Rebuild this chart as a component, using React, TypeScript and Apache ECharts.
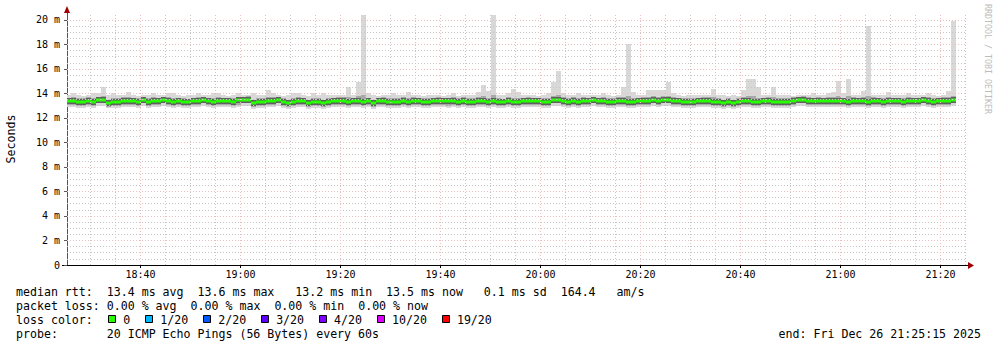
import React, { useEffect, useRef } from "react";
import * as echarts from "echarts";

// time is expressed in minutes after 18:00
const X_START = 25; // first sample 18:25
const AXIS_MIN = 25.3; // 18:25:18
const AXIS_MAX = 205.3; // 21:25:18
const Y_MAX = 20.57;
const X_TICKS = [40, 60, 80, 100, 120, 140, 160, 180, 200];
const Y_TICKS = [0, 2, 4, 6, 8, 10, 12, 14, 16, 18, 20];

// round-trip times in ms, one sample per minute
const rttMed = [
  13.4, 13.4, 13.3, 13.3, 13.4, 13.3, 13.5, 13.5, 13.2, 13.3,
  13.3, 13.4, 13.4, 13.4, 13.3, 13.5, 13.3, 13.4, 13.4, 13.5,
  13.4, 13.3, 13.4, 13.3, 13.3, 13.4, 13.4, 13.5, 13.4, 13.3,
  13.4, 13.4, 13.4, 13.3, 13.5, 13.5, 13.5, 13.2, 13.3, 13.3,
  13.4, 13.4, 13.5, 13.3, 13.2, 13.3, 13.4, 13.4, 13.2, 13.3,
  13.3, 13.2, 13.3, 13.4, 13.4, 13.4, 13.3, 13.4, 13.4, 13.3,
  13.4, 13.2, 13.4, 13.4, 13.3, 13.3, 13.3, 13.4, 13.3, 13.4,
  13.4, 13.3, 13.3, 13.4, 13.4, 13.4, 13.4, 13.4, 13.3, 13.4,
  13.3, 13.3, 13.4, 13.4, 13.3, 13.4, 13.3, 13.3, 13.4, 13.3,
  13.3, 13.4, 13.4, 13.4, 13.4, 13.3, 13.3, 13.5, 13.5, 13.4,
  13.3, 13.4, 13.3, 13.4, 13.4, 13.5, 13.4, 13.4, 13.3, 13.3,
  13.4, 13.4, 13.3, 13.3, 13.4, 13.4, 13.4, 13.5, 13.4, 13.5,
  13.5, 13.4, 13.4, 13.3, 13.3, 13.3, 13.4, 13.4, 13.4, 13.3,
  13.3, 13.2, 13.3, 13.2, 13.3, 13.4, 13.4, 13.3, 13.3, 13.4,
  13.4, 13.3, 13.3, 13.3, 13.3, 13.4, 13.5, 13.5, 13.4, 13.4,
  13.4, 13.4, 13.4, 13.4, 13.4, 13.4, 13.3, 13.4, 13.4, 13.4,
  13.3, 13.4, 13.4, 13.3, 13.4, 13.4, 13.4, 13.3, 13.4, 13.4,
  13.4, 13.5, 13.4, 13.3, 13.4, 13.4, 13.4, 13.5,
];

const rttMax = [
  13.9, 14.0, 13.9, 13.8, 13.9, 14.0, 14.0, 14.5, 13.9, 14.0,
  13.9, 13.9, 14.1, 13.9, 13.8, 13.9, 13.9, 14.0, 13.9, 13.9,
  14.0, 14.0, 13.9, 13.8, 13.9, 13.9, 14.0, 13.9, 13.9, 14.0,
  14.0, 13.9, 13.8, 13.9, 14.0, 13.9, 13.9, 14.0, 13.9, 13.9,
  14.3, 14.0, 13.9, 13.8, 13.9, 14.0, 14.0, 13.9, 13.8, 14.0,
  13.9, 14.0, 13.9, 13.9, 13.9, 13.9, 14.5, 13.9, 14.9, 20.4,
  14.0, 13.9, 13.8, 13.9, 13.9, 14.0, 13.9, 13.9, 14.1, 13.9,
  13.9, 13.8, 13.9, 13.9, 13.9, 13.8, 13.9, 14.0, 13.8, 13.9,
  13.9, 13.9, 14.1, 14.7, 14.2, 20.4, 13.9, 13.9, 14.0, 14.4,
  14.1, 13.9, 13.9, 13.9, 13.8, 13.9, 14.0, 14.9, 15.8, 14.0,
  13.9, 13.9, 14.0, 13.9, 13.9, 13.9, 13.9, 14.0, 13.9, 13.8,
  13.9, 14.5, 18.0, 14.1, 13.9, 13.9, 14.3, 14.3, 14.3, 14.3,
  14.9, 14.0, 13.9, 13.8, 13.9, 13.9, 13.9, 13.9, 13.9, 14.4,
  13.9, 13.9, 13.8, 13.9, 13.8, 14.3, 15.2, 15.2, 14.5, 13.9,
  13.9, 14.5, 13.9, 13.9, 13.9, 13.8, 13.9, 13.9, 13.9, 14.0,
  13.9, 13.9, 14.0, 14.1, 15.0, 14.0, 15.2, 13.9, 13.9, 14.2,
  19.5, 13.9, 13.9, 13.9, 14.1, 13.9, 13.9, 13.9, 14.0, 13.9,
  13.9, 13.9, 14.0, 13.9, 13.8, 13.9, 14.2, 19.9,
];

const rttHi = [
  13.6, 13.7, 13.6, 13.6, 13.7, 13.6, 13.7, 13.8, 13.5, 13.6,
  13.6, 13.7, 13.7, 13.6, 13.6, 13.7, 13.6, 13.7, 13.6, 13.7,
  13.7, 13.6, 13.6, 13.6, 13.5, 13.6, 13.7, 13.7, 13.6, 13.6,
  13.7, 13.6, 13.6, 13.6, 13.7, 13.7, 13.8, 13.5, 13.6, 13.6,
  13.7, 13.7, 13.7, 13.6, 13.5, 13.6, 13.7, 13.6, 13.5, 13.6,
  13.6, 13.5, 13.6, 13.6, 13.7, 13.7, 13.7, 13.6, 13.8, 13.9,
  13.6, 13.5, 13.6, 13.7, 13.6, 13.6, 13.6, 13.7, 13.6, 13.7,
  13.6, 13.6, 13.6, 13.6, 13.7, 13.6, 13.6, 13.7, 13.6, 13.7,
  13.6, 13.6, 13.7, 13.8, 13.6, 13.9, 13.6, 13.5, 13.7, 13.6,
  13.6, 13.6, 13.7, 13.6, 13.6, 13.6, 13.6, 13.8, 13.9, 13.7,
  13.6, 13.7, 13.6, 13.7, 13.6, 13.7, 13.6, 13.7, 13.6, 13.6,
  13.7, 13.7, 13.8, 13.6, 13.6, 13.7, 13.7, 13.8, 13.7, 13.8,
  13.8, 13.7, 13.6, 13.6, 13.6, 13.6, 13.6, 13.7, 13.7, 13.7,
  13.6, 13.5, 13.6, 13.5, 13.6, 13.7, 13.8, 13.8, 13.6, 13.6,
  13.7, 13.7, 13.6, 13.6, 13.6, 13.7, 13.7, 13.8, 13.7, 13.6,
  13.7, 13.6, 13.7, 13.7, 13.8, 13.6, 13.8, 13.7, 13.6, 13.7,
  13.8, 13.7, 13.6, 13.6, 13.7, 13.6, 13.6, 13.6, 13.7, 13.6,
  13.6, 13.7, 13.7, 13.6, 13.6, 13.7, 13.7, 13.8,
];

const rttLo = [
  13.1, 13.1, 13.0, 13.0, 13.1, 13.0, 13.2, 13.2, 12.9, 13.0,
  13.0, 13.1, 13.1, 13.1, 13.0, 13.2, 13.0, 13.1, 13.1, 13.2,
  13.1, 13.0, 13.1, 13.0, 13.0, 13.1, 13.1, 13.2, 13.1, 13.0,
  13.1, 13.1, 13.1, 13.0, 13.1, 13.2, 13.2, 12.9, 13.0, 13.0,
  13.1, 13.1, 13.2, 13.0, 12.9, 13.0, 13.1, 13.1, 12.9, 13.0,
  13.0, 12.9, 13.0, 13.1, 13.1, 13.1, 13.0, 13.1, 13.1, 13.0,
  13.1, 12.9, 13.1, 13.1, 13.0, 13.0, 13.0, 13.1, 13.0, 13.1,
  13.1, 13.0, 13.0, 13.1, 13.1, 13.1, 13.0, 13.1, 13.0, 13.1,
  13.0, 13.0, 13.1, 13.1, 13.0, 13.1, 13.0, 13.0, 13.1, 13.0,
  13.0, 13.1, 13.1, 13.1, 13.1, 13.0, 13.0, 13.2, 13.2, 13.1,
  13.0, 13.1, 13.0, 13.1, 13.1, 13.2, 13.1, 13.1, 13.0, 13.0,
  13.1, 13.1, 13.0, 13.0, 13.1, 13.1, 13.1, 13.2, 13.1, 13.2,
  13.2, 13.1, 13.1, 13.0, 13.0, 13.0, 13.1, 13.1, 13.1, 13.0,
  13.0, 12.9, 13.0, 12.9, 13.0, 13.1, 13.1, 13.0, 13.0, 13.1,
  13.1, 13.0, 13.0, 13.0, 13.0, 13.1, 13.2, 13.2, 13.1, 13.1,
  13.1, 13.1, 13.1, 13.1, 13.1, 13.1, 13.0, 13.1, 13.1, 13.1,
  13.0, 13.1, 13.1, 13.0, 13.1, 13.1, 13.1, 13.0, 13.1, 13.1,
  13.1, 13.2, 13.1, 13.0, 13.1, 13.1, 13.1, 13.2,
];

const rttMin = [
  12.9, 12.9, 12.8, 12.8, 12.9, 12.8, 13.0, 13.0, 12.8, 12.8,
  12.8, 12.9, 12.9, 12.9, 12.8, 13.0, 12.8, 12.9, 12.9, 13.0,
  12.9, 12.8, 12.9, 12.8, 12.8, 12.9, 12.9, 13.0, 12.9, 12.8,
  12.9, 12.9, 12.9, 12.8, 12.9, 13.0, 13.0, 12.7, 12.8, 12.8,
  12.9, 12.9, 13.0, 12.8, 12.7, 12.8, 12.9, 12.9, 12.7, 12.8,
  12.8, 12.7, 12.8, 12.9, 12.9, 12.9, 12.8, 12.9, 12.9, 12.8,
  12.9, 12.7, 12.9, 12.9, 12.8, 12.8, 12.8, 12.9, 12.8, 12.9,
  12.9, 12.8, 12.8, 12.9, 12.9, 12.9, 12.8, 12.9, 12.8, 12.9,
  12.8, 12.8, 12.9, 12.9, 12.8, 12.9, 12.8, 12.8, 12.9, 12.8,
  12.8, 12.9, 12.9, 12.9, 12.9, 12.8, 12.8, 13.0, 13.0, 12.9,
  12.8, 12.9, 12.8, 12.9, 12.9, 13.0, 12.9, 12.9, 12.8, 12.8,
  12.9, 12.9, 12.8, 12.8, 12.9, 12.9, 12.9, 13.0, 12.9, 13.0,
  13.0, 12.9, 12.9, 12.8, 12.8, 12.8, 12.9, 12.9, 12.9, 12.8,
  12.8, 12.7, 12.8, 12.7, 12.8, 12.9, 12.9, 12.8, 12.8, 12.9,
  12.9, 12.8, 12.8, 12.8, 12.8, 12.9, 13.0, 13.0, 12.9, 12.9,
  12.9, 12.9, 12.9, 12.9, 12.9, 12.9, 12.8, 12.9, 12.9, 12.9,
  12.8, 12.9, 12.9, 12.8, 12.9, 12.9, 12.9, 12.8, 12.9, 12.9,
  12.9, 13.0, 12.9, 12.8, 12.9, 12.9, 12.9, 13.0,
];

const LOSS_COLORS = ["#26ff00", "#00b8ff", "#0059ff", "#5e00ff", "#7e00ff", "#dd00ff", "#ff0000"];
const LOSS_LABELS = ["0", "1/20", "2/20", "3/20", "4/20", "10/20", "19/20"];

const LINE_RTT = "median rtt:  13.4 ms avg  13.6 ms max   13.2 ms min  13.5 ms now   0.1 ms sd  164.4   am/s";
const LINE_LOSS = "packet loss: 0.00 % avg  0.00 % max  0.00 % min  0.00 % now";
const LINE_COLOR = "loss color:";
const LINE_PROBE = "probe:       20 ICMP Echo Pings (56 Bytes) every 60s";
const END_TEXT = "end: Fri Dec 26 21:25:15 2025";

const MONO = '"DejaVu Sans Mono", monospace';
const LFONT = 11.6;
const CW = LFONT * 0.602;
const TX = 16;

const SMOKE_OUTER = "#d8d8d8";
const SMOKE_INNER = "#a8a8a8";
const SMOKE_CORE = "#606060";
const MEDIAN_COLOR = "#26ff00";
const GRID_MAJOR = "#ecc0c0";
const GRID_MINOR = "#c6c6c6";
const ARROW = "#a00000";

function fmtTime(v: number) {
  const h = 18 + Math.floor(v / 60);
  const m = Math.round(v % 60);
  return `${h}:${m < 10 ? "0" + m : m}`;
}

function textStyle(text: string, align: string, size = LFONT, fill = "#000") {
  return {
    text,
    fill,
    font: `${size}px ${MONO}`,
    align,
    verticalAlign: "middle",
    textAlign: align,
    textVerticalAlign: "middle",
  };
}

function textRuns(line: string, y: number) {
  const out: any[] = [];
  const re = /\S+(?: \S+)*/g;
  let m: RegExpExecArray | null;
  while ((m = re.exec(line))) {
    out.push({ type: "text", x: TX + m.index * CW, y, silent: true, style: textStyle(m[0], "left") });
  }
  return out;
}

export default function App() {
  const ref = useRef<HTMLDivElement>(null);

  useEffect(() => {
    const chart = echarts.init(ref.current!, null, { renderer: "svg" });

    const rows = rttMed.map((med, i) => [X_START + i, rttMin[i], rttLo[i], rttHi[i], rttMax[i], med]);

    const dotted = (color: string) => ({ color, type: [1, 2], width: 1 });
    const gridLines: any[] = [];
    for (let k = 1; k <= 40; k++) {
      if (k % 4 === 0) continue;
      gridLines.push({ yAxis: k / 2, lineStyle: dotted(GRID_MINOR) });
    }
    Y_TICKS.filter((v) => v > 0).forEach((v) => gridLines.push({ yAxis: v, lineStyle: dotted(GRID_MAJOR) }));
    for (let mnt = 30; mnt <= 205; mnt += 5) {
      gridLines.push({ xAxis: mnt, lineStyle: dotted(mnt % 20 === 0 ? GRID_MAJOR : GRID_MINOR) });
    }

    const renderItem = (params: any, api: any) => {
      const t = api.value(0);
      const cs = params.coordSys;
      const x0 = Math.round(Math.max(api.coord([t, 0])[0], cs.x));
      const x1 = Math.round(Math.min(api.coord([t + 1, 0])[0], cs.x + cs.width));
      const w = x1 - x0;
      const y = (v: number) => api.coord([t, v])[1];
      const yMin = Math.round(y(api.value(1)));
      const yLo = Math.round(y(api.value(2)));
      const yHi = Math.round(y(api.value(3)));
      const yMax = Math.round(y(api.value(4)));
      const yMed = Math.round(y(api.value(5)));
      return {
        type: "group",
        children: [
          { type: "rect", shape: { x: x0, y: yMax, width: w, height: yMin - yMax }, style: { fill: SMOKE_OUTER } },
          { type: "rect", shape: { x: x0, y: yHi, width: w, height: yLo - yHi }, style: { fill: SMOKE_INNER } },
          { type: "rect", shape: { x: x0, y: yMed - 3, width: w, height: 6 }, style: { fill: SMOKE_CORE } },
          { type: "rect", shape: { x: x0, y: yMed - 1.5, width: w, height: 3 }, style: { fill: MEDIAN_COLOR } },
        ],
      };
    };

    const graphic: any[] = [
      ...textRuns(LINE_RTT, 291.5),
      ...textRuns(LINE_LOSS, 305.5),
      ...textRuns(LINE_COLOR, 319.5),
      ...textRuns(LINE_PROBE, 333.5),
      { type: "text", x: 981, y: 333.5, silent: true, style: textStyle(END_TEXT, "right") },
      { type: "text", x: 11, y: 139, rotation: Math.PI / 2, silent: true, style: textStyle("Seconds", "center") },
      {
        type: "text",
        x: 988,
        y: 59,
        rotation: -Math.PI / 2,
        silent: true,
        style: textStyle("RRDTOOL / TOBI OETIKER", "center", 8.3, "#bdbdbd"),
      },
      { type: "line", silent: true, shape: { x1: 62, y1: 265.5, x2: 968, y2: 265.5 }, style: { stroke: "#000", lineWidth: 1 } },
      { type: "polygon", silent: true, shape: { points: [[64, 13], [70, 13], [67, 6]] }, style: { fill: ARROW } },
      { type: "polygon", silent: true, shape: { points: [[968, 262], [968, 269], [974, 265.5]] }, style: { fill: ARROW } },
    ];

    let sx = TX + 13 * CW + 1.5;
    LOSS_LABELS.forEach((lab, i) => {
      graphic.push({
        type: "rect",
        silent: true,
        shape: { x: Math.round(sx) + 0.5, y: 315.5, width: 7, height: 7 },
        style: { fill: LOSS_COLORS[i], stroke: "#000", lineWidth: 1 },
      });
      graphic.push({ type: "text", x: sx + 15, y: 319.5, silent: true, style: textStyle(lab, "left") });
      sx += 15 + lab.length * CW + 15;
    });

    const option: any = {
      animation: false,
      backgroundColor: "#ffffff",
      grid: { left: 67, top: 13, width: 900, height: 252, containLabel: false },
      xAxis: {
        type: "value",
        min: AXIS_MIN,
        max: AXIS_MAX,
        splitLine: { show: false },
        axisLine: { show: true, onZero: false, lineStyle: { color: "#000", width: 1 } },
        axisTick: { show: true, length: 3, customValues: X_TICKS, lineStyle: { color: "#000" } },
        axisLabel: {
          customValues: X_TICKS,
          formatter: (v: number) => fmtTime(v),
          fontFamily: MONO,
          fontSize: 10,
          color: "#000",
          margin: 4,
        },
      },
      yAxis: {
        type: "value",
        min: 0,
        max: Y_MAX,
        splitLine: { show: false },
        axisLine: { show: true, onZero: false, lineStyle: { color: "#555", width: 1 } },
        axisTick: { show: true, length: 3, customValues: Y_TICKS, lineStyle: { color: "#555" } },
        axisLabel: {
          customValues: Y_TICKS,
          formatter: (v: number) => (v === 0 ? "0" : `${v} m`),
          fontFamily: MONO,
          fontSize: 10,
          color: "#000",
          margin: 7,
        },
      },
      series: [
        {
          type: "custom",
          renderItem,
          data: rows,
          encode: { x: 0, y: [1, 2, 3, 4, 5] },
          clip: true,
          silent: true,
          markLine: {
            silent: true,
            symbol: ["none", "none"],
            label: { show: false },
            animation: false,
            lineStyle: { type: [1, 2], width: 1 },
            data: gridLines,
          },
        },
      ],
      graphic,
    };

    chart.setOption(option);
    return () => chart.dispose();
  }, []);

  return (
    <div
      ref={ref}
      style={{ position: "absolute", left: 0, top: 0, width: 997, height: 347, background: "#fff" }}
    />
  );
}
